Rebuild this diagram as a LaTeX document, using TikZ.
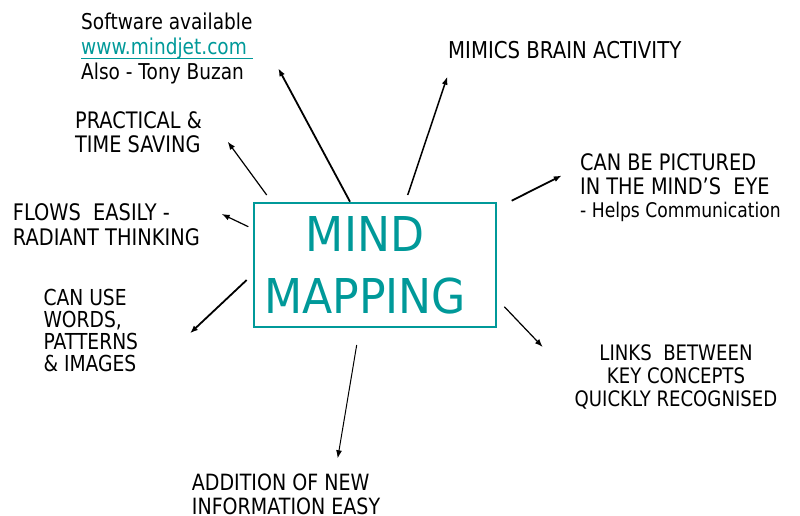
\documentclass[tikz,border=0pt]{standalone}
\usepackage{fontspec}
\setmainfont[FakeStretch=0.85]{DejaVu Sans}
\newfontfamily\titlefont[FakeStretch=0.92]{DejaVu Sans}
\usetikzlibrary{arrows.meta}
\definecolor{mmteal}{RGB}{0,153,153}
\newcommand\mmlink[1]{{\color{mmteal}\setbox0\hbox{#1}\rlap{\rule[-4pt]{\wd0}{1.3pt}}\box0}}
\tikzset{
	lbl/.style={inner sep=0pt, align=left, anchor=base west, font=\fontsize{22.6}{24.5}\selectfont},
	ctrlbl/.style={lbl, align=center, anchor=base},
	arr/.style={-{Latex[length=8pt,width=6pt]}, line width=1.2pt},
	heavyarr/.style={arr, line width=1.8pt}
}
\begin{document}
\begin{tikzpicture}[x=1pt,y=-1pt]
	\useasboundingbox (0,0) rectangle (800,516);

	% centre box (labels sit on the baseline of their last line)
	\node[draw=mmteal, line width=2pt, minimum width=241.4pt, minimum height=124.6pt, inner sep=0pt] (box) at (375,265) {};
	\node[ctrlbl, text=mmteal, font=\titlefont\fontsize{48}{61.6}\selectfont] (title) at (365,313.3) {MIND\\MAPPING};

	% labels
	\node[lbl, font=\fontsize{21.8}{25}\selectfont] (soft) at (81,80) {Software available\\\mmlink{www.mindjet.com\ }\\Also\ - Tony\ Buzan};
	\node[lbl, font=\fontsize{22.7}{24.4}\selectfont] (prac) at (75,152.7) {PRACTICAL \&\\TIME SAVING};
	\node[lbl, font=\fontsize{22.8}{25}\selectfont] (flows) at (12.7,245) {FLOWS\ \ EASILY -\\RADIANT THINKING};
	\node[lbl, font=\fontsize{22}{22.2}\selectfont] (words) at (43.3,371.7) {CAN USE\\WORDS,\\PATTERNS\\\& IMAGES};
	\node[lbl, font=\fontsize{22.4}{24.5}\selectfont] (addn) at (191.7,514.5) {ADDITION OF NEW\\INFORMATION EASY};
	\node[lbl, font=\fontsize{23.2}{25}\selectfont] (mimic) at (448,58.3) {MIMICS BRAIN ACTIVITY};
	\node[lbl, font=\fontsize{22.7}{23.3}\selectfont] (pict) at (580,217.3) {CAN BE PICTURED\\IN THE MIND’S\ \ EYE\\{\fontsize{20.2}{23.3}\selectfont - Helps Communication}};
	\node[ctrlbl, font=\fontsize{21.3}{23.3}\selectfont] (links) at (676,406.7) {LINKS\ \ BETWEEN\\KEY CONCEPTS\\QUICKLY RECOGNISED};

	% arrow ends
	\coordinate (soft-s) at (350,201.7);
	\coordinate (soft-t) at (278.3,68.3);
	\coordinate (prac-s) at (266.7,195);
	\coordinate (prac-t) at (227.7,141.7);
	\coordinate (mimic-s) at (407.7,195);
	\coordinate (mimic-t) at (447.3,76.7);
	\coordinate (pict-s) at (511.7,200.7);
	\coordinate (pict-t) at (561.7,175.5);
	\coordinate (links-s) at (504.3,306.7);
	\coordinate (links-t) at (542.7,347);
	\coordinate (addn-s) at (356.7,345);
	\coordinate (addn-t) at (337.7,458.3);
	\coordinate (words-s) at (246.7,280);
	\coordinate (words-t) at (190,333.3);
	\coordinate (flows-s) at (248.3,226.7);
	\coordinate (flows-t) at (221.7,214);

	\draw[heavyarr] (soft-s) -- (soft-t);
	\draw[arr] (prac-s) -- (prac-t);
	\draw[arr, line width=1.5pt] (mimic-s) -- (mimic-t);
	\draw[heavyarr] (pict-s) -- (pict-t);
	\draw[arr] (links-s) -- (links-t);
	\draw[arr, line width=1pt] (addn-s) -- (addn-t);
	\draw[heavyarr] (words-s) -- (words-t);
	\draw[arr] (flows-s) -- (flows-t);
\end{tikzpicture}
\end{document}
